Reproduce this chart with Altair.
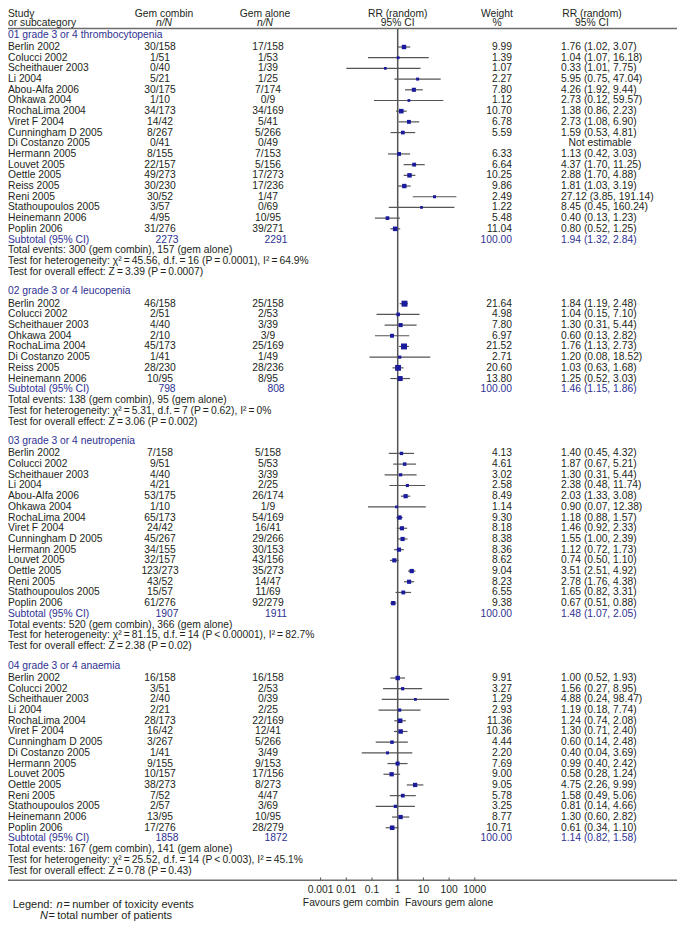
import altair as alt
import pandas as pd

# ---------------- data ----------------
g1_title = "01 grade 3 or 4 thrombocytopenia"
g1_study = ["Berlin 2002", "Colucci 2002", "Scheithauer 2003", "Li 2004", "Abou-Alfa 2006", "Ohkawa 2004",
            "RochaLima 2004", "Viret F 2004", "Cunningham D 2005", "Di Costanzo 2005", "Hermann 2005",
            "Louvet 2005", "Oettle 2005", "Reiss 2005", "Reni 2005", "Stathoupoulos 2005", "Heinemann 2006",
            "Poplin 2006"]
g1_combin = ["30/158", "1/51", "0/40", "5/21", "30/175", "1/10", "34/173", "14/42", "8/267", "0/41", "8/155",
             "22/157", "49/273", "30/230", "30/52", "3/57", "4/95", "31/276"]
g1_alone = ["17/158", "1/53", "1/39", "1/25", "7/174", "0/9", "34/169", "5/41", "5/266", "0/49", "7/153",
            "5/156", "17/273", "17/236", "1/47", "0/69", "10/95", "39/271"]
g1_weight = [9.99, 1.39, 1.07, 2.27, 7.80, 1.12, 10.70, 6.78, 5.59, None, 6.33, 6.64, 10.25, 9.86, 2.49,
             1.22, 5.48, 11.04]
g1_ci_text = ["1.76 (1.02, 3.07)", "1.04 (1.07, 16.18)", "0.33 (1.01, 7.75)", "5.95 (0.75, 47.04)",
              "4.26 (1.92, 9.44)", "2.73 (0.12, 59.57)", "1.38 (0.86, 2.23)", "2.73 (1.08, 6.90)",
              "1.59 (0.53, 4.81)", "Not estimable", "1.13 (0.42, 3.03)", "4.37 (1.70, 11.25)",
              "2.88 (1.70, 4.88)", "1.81 (1.03, 3.19)", "27.12 (3.85, 191.14)", "8.45 (0.45, 160.24)",
              "0.40 (0.13, 1.23)", "0.80 (0.52, 1.25)"]
g1_rr = [1.76, 1.04, 0.33, 5.95, 4.26, 2.73, 1.38, 2.73, 1.59, None, 1.13, 4.37, 2.88, 1.81, 27.12, 8.45, 0.40, 0.80]
g1_lo = [1.02, 0.07, 0.01, 0.75, 1.92, 0.12, 0.86, 1.08, 0.53, None, 0.42, 1.70, 1.70, 1.03, 3.85, 0.45, 0.13, 0.52]
g1_hi = [3.07, 16.18, 7.75, 47.04, 9.44, 59.57, 2.23, 6.90, 4.81, None, 3.03, 11.25, 4.88, 3.19, 191.14, 160.24, 1.23, 1.25]
g1_total = ["2273", "2291", "100.00", "1.94 (1.32, 2.84)"]
g1_pooled = [1.94, 1.32, 2.84]
g1_events = "Total events: 300 (gem combin), 157 (gem alone)"
g1_het = "Test for heterogeneity: χ²\u2009=\u200945.56, d.f.\u2009=\u200916 (P\u2009=\u20090.0001), I²\u2009=\u200964.9%"
g1_z = "Test for overall effect: Z\u2009=\u20093.39 (P\u2009=\u20090.0007)"

g2_title = "02 grade 3 or 4 leucopenia"
g2_study = ["Berlin 2002", "Colucci 2002", "Scheithauer 2003", "Ohkawa 2004", "RochaLima 2004",
            "Di Costanzo 2005", "Reiss 2005", "Heinemann 2006"]
g2_combin = ["46/158", "2/51", "4/40", "2/10", "45/173", "1/41", "28/230", "10/95"]
g2_alone = ["25/158", "2/53", "3/39", "3/9", "25/169", "1/49", "28/236", "8/95"]
g2_weight = [21.64, 4.98, 7.80, 6.97, 21.52, 2.71, 20.60, 13.80]
g2_ci_text = ["1.84 (1.19, 2.48)", "1.04 (0.15, 7.10)", "1.30 (0.31, 5.44)", "0.60 (0.13, 2.82)",
              "1.76 (1.13, 2.73)", "1.20 (0.08, 18.52)", "1.03 (0.63, 1.68)", "1.25 (0.52, 3.03)"]
g2_rr = [1.84, 1.04, 1.30, 0.60, 1.76, 1.20, 1.03, 1.25]
g2_lo = [1.19, 0.15, 0.31, 0.13, 1.13, 0.08, 0.63, 0.52]
g2_hi = [2.48, 7.10, 5.44, 2.82, 2.73, 18.52, 1.68, 3.03]
g2_total = ["798", "808", "100.00", "1.46 (1.15, 1.86)"]
g2_pooled = [1.46, 1.15, 1.86]
g2_events = "Total events: 138 (gem combin), 95 (gem alone)"
g2_het = "Test for heterogeneity: χ²\u2009=\u20095.31, d.f.\u2009=\u20097 (P\u2009=\u20090.62), I²\u2009=\u20090%"
g2_z = "Test for overall effect: Z\u2009=\u20093.06 (P\u2009=\u20090.002)"

g3_title = "03 grade 3 or 4 neutropenia"
g3_study = ["Berlin 2002", "Colucci 2002", "Scheithauer 2003", "Li 2004", "Abou-Alfa 2006", "Ohkawa 2004",
            "RochaLima 2004", "Viret F 2004", "Cunningham D 2005", "Hermann 2005", "Louvet 2005",
            "Oettle 2005", "Reni 2005", "Stathoupoulos 2005", "Poplin 2006"]
g3_combin = ["7/158", "9/51", "4/40", "4/21", "53/175", "1/10", "65/173", "24/42", "45/267", "34/155",
             "32/157", "123/273", "43/52", "15/57", "61/276"]
g3_alone = ["5/158", "5/53", "3/39", "2/25", "26/174", "1/9", "54/169", "16/41", "29/266", "30/153",
            "43/156", "35/273", "14/47", "11/69", "92/279"]
g3_weight = [4.13, 4.61, 3.02, 2.58, 8.49, 1.14, 9.30, 8.18, 8.38, 8.36, 8.62, 9.04, 8.23, 6.55, 9.38]
g3_ci_text = ["1.40 (0.45, 4.32)", "1.87 (0.67, 5.21)", "1.30 (0.31, 5.44)", "2.38 (0.48, 11.74)",
              "2.03 (1.33, 3.08)", "0.90 (0.07, 12.38)", "1.18 (0.88, 1.57)", "1.46 (0.92, 2.33)",
              "1.55 (1.00, 2.39)", "1.12 (0.72, 1.73)", "0.74 (0.50, 1.10)", "3.51 (2.51, 4.92)",
              "2.78 (1.76, 4.38)", "1.65 (0.82, 3.31)", "0.67 (0.51, 0.88)"]
g3_rr = [1.40, 1.87, 1.30, 2.38, 2.03, 0.90, 1.18, 1.46, 1.55, 1.12, 0.74, 3.51, 2.78, 1.65, 0.67]
g3_lo = [0.45, 0.67, 0.31, 0.48, 1.33, 0.07, 0.88, 0.92, 1.00, 0.72, 0.50, 2.51, 1.76, 0.82, 0.51]
g3_hi = [4.32, 5.21, 5.44, 11.74, 3.08, 12.38, 1.57, 2.33, 2.39, 1.73, 1.10, 4.92, 4.38, 3.31, 0.88]
g3_total = ["1907", "1911", "100.00", "1.48 (1.07, 2.05)"]
g3_pooled = [1.48, 1.07, 2.05]
g3_events = "Total events: 520 (gem combin), 366 (gem alone)"
g3_het = "Test for heterogeneity: χ²\u2009=\u200981.15, d.f.\u2009=\u200914 (P\u2009<\u20090.00001), I²\u2009=\u200982.7%"
g3_z = "Test for overall effect: Z\u2009=\u20092.38 (P\u2009=\u20090.02)"

g4_title = "04 grade 3 or 4 anaemia"
g4_study = ["Berlin 2002", "Colucci 2002", "Scheithauer 2003", "Li 2004", "RochaLima 2004", "Viret F 2004",
            "Cunningham D 2005", "Di Costanzo 2005", "Hermann 2005", "Louvet 2005", "Oettle 2005",
            "Reni 2005", "Stathoupoulos 2005", "Heinemann 2006", "Poplin 2006"]
g4_combin = ["16/158", "3/51", "2/40", "2/21", "28/173", "16/42", "3/267", "1/41", "9/155", "10/157",
             "38/273", "7/52", "2/57", "13/95", "17/276"]
g4_alone = ["16/158", "2/53", "0/39", "2/25", "22/169", "12/41", "5/266", "3/49", "9/153", "17/156",
            "8/273", "4/47", "3/69", "10/95", "28/279"]
g4_weight = [9.91, 3.27, 1.29, 2.93, 11.36, 10.36, 4.44, 2.20, 7.69, 9.00, 9.05, 5.78, 3.25, 8.77, 10.71]
g4_ci_text = ["1.00 (0.52, 1.93)", "1.56 (0.27, 8.95)", "4.88 (0.24, 98.47)", "1.19 (0.18, 7.74)",
              "1.24 (0.74, 2.08)", "1.30 (0.71, 2.40)", "0.60 (0.14, 2.48)", "0.40 (0.04, 3.69)",
              "0.99 (0.40, 2.42)", "0.58 (0.28, 1.24)", "4.75 (2.26, 9.99)", "1.58 (0.49, 5.06)",
              "0.81 (0.14, 4.66)", "1.30 (0.60, 2.82)", "0.61 (0.34, 1.10)"]
g4_rr = [1.00, 1.56, 4.88, 1.19, 1.24, 1.30, 0.60, 0.40, 0.99, 0.58, 4.75, 1.58, 0.81, 1.30, 0.61]
g4_lo = [0.52, 0.27, 0.24, 0.18, 0.74, 0.71, 0.14, 0.04, 0.40, 0.28, 2.26, 0.49, 0.14, 0.60, 0.34]
g4_hi = [1.93, 8.95, 98.47, 7.74, 2.08, 2.40, 2.48, 3.69, 2.42, 1.24, 9.99, 5.06, 4.66, 2.82, 1.10]
g4_total = ["1858", "1872", "100.00", "1.14 (0.82, 1.58)"]
g4_pooled = [1.14, 0.82, 1.58]
g4_events = "Total events: 167 (gem combin), 141 (gem alone)"
g4_het = "Test for heterogeneity: χ²\u2009=\u200925.52, d.f.\u2009=\u200914 (P\u2009<\u20090.003), I²\u2009=\u200945.1%"
g4_z = "Test for overall effect: Z\u2009=\u20090.78 (P\u2009=\u20090.43)"

tick_values = [0.001, 0.01, 0.1, 1, 10, 100, 1000]
tick_labels = ["0.001", "0.01", "0.1", "1", "10", "100", "1000"]

header_top = ["Study", "Gem combin", "Gem alone", "RR (random)", "Weight", "RR (random)"]
header_bot = ["or subcategory", "n/N", "n/N", "95% CI", "%", "95% CI"]
favours = ["Favours gem combin", "Favours gem alone"]
legend_parts_1 = ["Legend:", "n", "=\u2009number of toxicity events"]
legend_parts_2 = ["N", "=\u2009total number of patients"]

# ---------------- layout (built from the data) ----------------
groups = [
    (g1_title, g1_study, g1_combin, g1_alone, g1_weight, g1_ci_text, g1_rr, g1_lo, g1_hi, g1_total, g1_pooled, g1_events, g1_het, g1_z),
    (g2_title, g2_study, g2_combin, g2_alone, g2_weight, g2_ci_text, g2_rr, g2_lo, g2_hi, g2_total, g2_pooled, g2_events, g2_het, g2_z),
    (g3_title, g3_study, g3_combin, g3_alone, g3_weight, g3_ci_text, g3_rr, g3_lo, g3_hi, g3_total, g3_pooled, g3_events, g3_het, g3_z),
    (g4_title, g4_study, g4_combin, g4_alone, g4_weight, g4_ci_text, g4_rr, g4_lo, g4_hi, g4_total, g4_pooled, g4_events, g4_het, g4_z),
]

DARK = "#231f20"
BLUE = "#2e3192"

texts = []
studies = []
diamonds = []


def add(line, col, text, color=DARK):
    texts.append({"line": line, "col": col, "text": text, "color": color})


L_HEAD1, L_HEAD2 = 0.67, 1.56
add(L_HEAD1, "h_left", header_top[0])
add(L_HEAD1, "h_combin", header_top[1])
add(L_HEAD1, "h_alone", header_top[2])
add(L_HEAD1, "h_rr", header_top[3])
add(L_HEAD1, "h_weight", header_top[4])
add(L_HEAD1, "h_ci", header_top[5])
add(L_HEAD2, "h_left", header_bot[0])
add(L_HEAD2, "h_combin_i", header_bot[1])
add(L_HEAD2, "h_alone_i", header_bot[2])
add(L_HEAD2, "h_rr", header_bot[3])
add(L_HEAD2, "h_weight", header_bot[4])
add(L_HEAD2, "h_ci", header_bot[5])

rule_top = 2.07
line = 2.65
for gi, (title, st, cb, al, wt, ci, rr, lo, hi, tot, pooled, ev, het, zz) in enumerate(groups):
    if gi > 0:
        line = line + 1.8
    add(line, "left", title, BLUE)
    line += 1.15
    for i in range(len(st)):
        add(line, "left", st[i])
        add(line, "combin", cb[i])
        add(line, "alone", al[i])
        if wt[i] is not None:
            add(line, "weight", f"{wt[i]:.2f}")
            add(line, "ci", ci[i])
            studies.append({"line": line, "rr": rr[i], "lo": lo[i], "hi": hi[i], "weight": wt[i]})
        else:
            add(line, "ci_c", ci[i])
        line += 1
    add(line, "left", "Subtotal (95% CI)", BLUE)
    add(line, "combin_s", tot[0], BLUE)
    add(line, "alone_s", tot[1], BLUE)
    add(line, "weight", tot[2], BLUE)
    add(line, "ci", tot[3], BLUE)
    r, l, h = pooled
    hh = 0.44
    diamonds += [
        {"g": gi, "x": l, "y1": line, "y2": line},
        {"g": gi, "x": r, "y1": line - hh, "y2": line + hh},
        {"g": gi, "x": h, "y1": line, "y2": line},
    ]
    line += 1
    add(line, "left", ev)
    line += 1
    add(line, "left", het)
    line += 1.05
    add(line, "left", zz)

rule_bottom = line + 0.85
add(rule_bottom + 2.15, "fav_l", favours[0])
add(rule_bottom + 2.15, "fav_r", favours[1])
add(rule_bottom + 2.3, "leg_a", legend_parts_1[0])
add(rule_bottom + 2.3, "leg_n", legend_parts_1[1])
add(rule_bottom + 2.3, "leg_b", legend_parts_1[2])
add(rule_bottom + 3.38, "leg_N", legend_parts_2[0])
add(rule_bottom + 3.38, "leg_c", legend_parts_2[1])

tdf = pd.DataFrame(texts)
sdf = pd.DataFrame(studies)
ddf = pd.DataFrame(diamonds)
hdf = pd.DataFrame({"line": [rule_top, rule_bottom]})
vdf = pd.DataFrame({"v": [1.0], "y1": [rule_top], "y2": [rule_bottom]})
kdf = pd.DataFrame({"v": tick_values, "lab": tick_labels,
                    "y1": [rule_bottom] * len(tick_values),
                    "y2": [rule_bottom - 0.25] * len(tick_values),
                    "yl": [rule_bottom + 0.95] * len(tick_values)})

W, H = 669, 914
ys = alt.Scale(domain=[0.1533, 85.614], range=[0, H])
xs = alt.Scale(type="log", domain=[0.001, 1000], range=[312.6, 466.8])
FONT = "Liberation Sans"
FS = 10.3
LFS = 11

col_specs = {
    "h_left": (0, "left", "normal", FS),
    "h_combin": (156, "center", "normal", FS),
    "h_combin_i": (156, "center", "italic", FS),
    "h_alone": (257, "center", "normal", FS),
    "h_alone_i": (257, "center", "italic", FS),
    "h_rr": (389.7, "center", "normal", FS),
    "h_weight": (489, "center", "normal", FS),
    "h_ci": (584, "center", "normal", FS),
    "left": (0, "left", "normal", FS),
    "combin": (152, "center", "normal", FS),
    "combin_s": (159, "center", "normal", FS),
    "alone": (260, "center", "normal", FS),
    "alone_s": (268, "center", "normal", FS),
    "weight": (504, "right", "normal", FS),
    "ci": (553, "left", "normal", FS),
    "ci_c": (592, "center", "normal", FS),
    "fav_l": (391, "right", "normal", FS),
    "fav_r": (397, "left", "normal", FS),
    "leg_a": (4.7, "left", "normal", LFS),
    "leg_n": (48.5, "left", "italic", LFS),
    "leg_b": (55.5, "left", "normal", LFS),
    "leg_N": (32, "left", "italic", LFS),
    "leg_c": (40.5, "left", "normal", LFS),
}

layers = []
base_t = alt.Chart(tdf)
for col, (xp, al, style, fs) in col_specs.items():
    layers.append(
        base_t.transform_filter(alt.datum.col == col)
        .mark_text(align=al, baseline="middle", font=FONT, fontSize=fs, fontStyle=style)
        .encode(x=alt.value(xp), y=alt.Y("line:Q", scale=ys, axis=None),
                text="text:N", color=alt.Color("color:N", scale=None))
    )

hrules = alt.Chart(hdf).mark_rule(color="#6d6d6d", strokeWidth=1.5).encode(
    y=alt.Y("line:Q", scale=ys, axis=None), x=alt.value(0), x2=alt.value(W))
vline = alt.Chart(vdf).mark_rule(color="#555555", strokeWidth=1.5).encode(
    x=alt.X("v:Q", scale=xs, axis=None), y=alt.Y("y1:Q", scale=ys, axis=None), y2="y2:Q")
ci_lines = alt.Chart(sdf).mark_rule(color="#555555", strokeWidth=1.2).encode(
    x=alt.X("lo:Q", scale=xs, axis=None), x2="hi:Q", y=alt.Y("line:Q", scale=ys, axis=None))
squares = alt.Chart(sdf).mark_square(color="#1a1a9c", opacity=1).encode(
    x=alt.X("rr:Q", scale=xs, axis=None), y=alt.Y("line:Q", scale=ys, axis=None),
    size=alt.Size("weight:Q", scale=alt.Scale(domain=[0, 22], range=[6, 36]), legend=None))
dia = alt.Chart(ddf).mark_area(color="black", opacity=1, orient="vertical").encode(
    x=alt.X("x:Q", scale=xs, axis=None), y=alt.Y("y1:Q", scale=ys, axis=None), y2="y2:Q",
    detail="g:N", order="x:Q")
ticks = alt.Chart(kdf).mark_rule(color="#555555", strokeWidth=1).encode(
    x=alt.X("v:Q", scale=xs, axis=None), y=alt.Y("y1:Q", scale=ys, axis=None), y2="y2:Q")
tick_text = alt.Chart(kdf).mark_text(font=FONT, fontSize=FS, color=DARK, baseline="middle").encode(
    x=alt.X("v:Q", scale=xs, axis=None), y=alt.Y("yl:Q", scale=ys, axis=None), text="lab:N")

chart = alt.layer(hrules, vline, ci_lines, squares, dia, ticks, tick_text, *layers).properties(
    width=W, height=H, padding=0, autosize="none"
).configure_view(stroke=None)

chart.save("out.html", embed_options={"renderer": "svg", "actions": False})
